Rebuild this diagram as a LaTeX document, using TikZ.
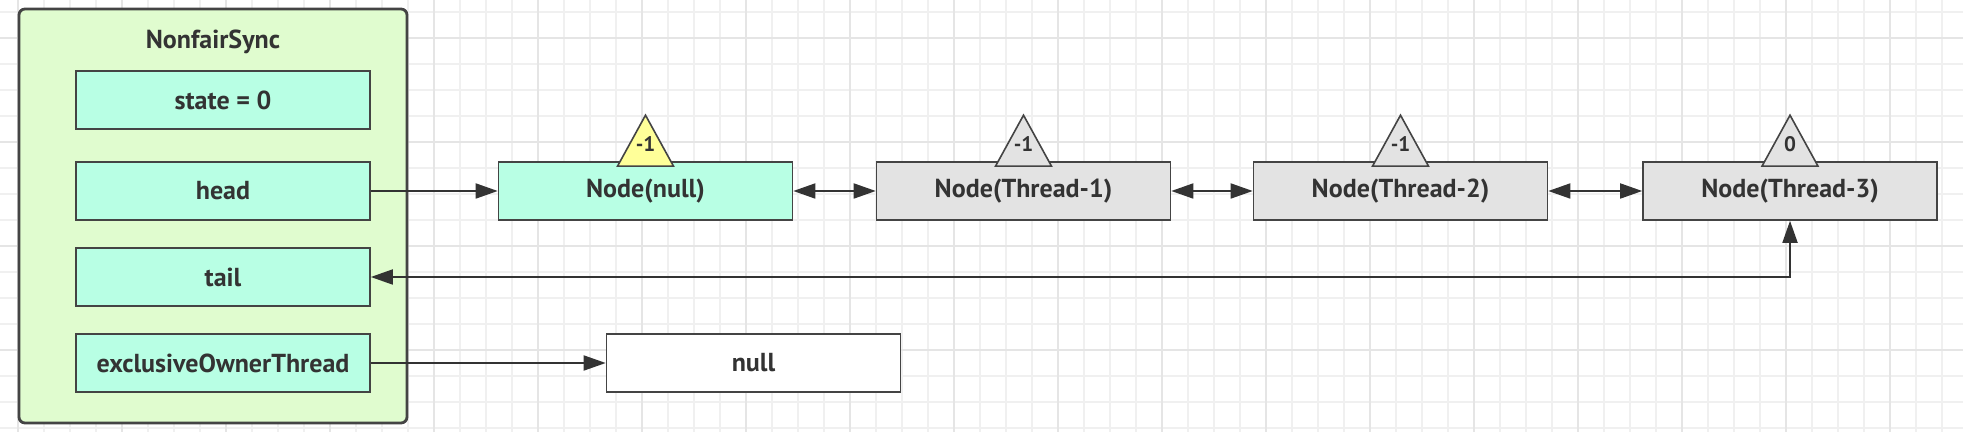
\documentclass[tikz,border=0pt]{standalone}
\usepackage{fontspec}
\setmainfont{PT Sans}
\usetikzlibrary{arrows.meta}
\definecolor{syncfill}{HTML}{E0FCCF}
\definecolor{fieldfill}{HTML}{B8FFE4}
\definecolor{qfill}{HTML}{E3E3E3}
\definecolor{wfill}{HTML}{FFFF99}
\definecolor{edge}{HTML}{444444}
\definecolor{ink}{HTML}{333333}
\tikzset{
  gridthin/.style={draw=black!6, line width=0.9pt},
  gridthick/.style={draw=black!10, line width=0.9pt},
  syncbox/.style={draw=edge, fill=syncfill, line width=1.4pt, rounded corners=3pt, minimum width=194pt, minimum height=207pt, inner sep=0pt},
  field/.style={draw=edge, fill=fieldfill, line width=0.8pt, minimum width=147pt, minimum height=29pt, inner sep=0pt, text=ink, font=\bfseries\fontsize{13}{15}\selectfont},
  qnode/.style={field, fill=qfill},
  waitst/.style={draw=edge, line width=0.8pt},
  wlabel/.style={inner sep=0pt, text=ink, font=\bfseries\fontsize{10.5}{12}\selectfont},
  link/.style={draw=ink, line width=0.9pt, -{Triangle[length=11pt,width=7.5pt]}},
  dlink/.style={draw=ink, line width=0.9pt, {Triangle[length=11pt,width=7.5pt]}-{Triangle[length=11pt,width=7.5pt]}}
}
\begin{document}
\begin{tikzpicture}[x=0.5pt, y=-0.5pt]
\useasboundingbox (0,0) rectangle (1963,432);
\fill[white] (0,0) rectangle (1963,432);
\foreach \i in {0,...,74} \draw[gridthin] (17.7+26*\i,0) -- ++(0,432);
\foreach \j in {0,...,16} \draw[gridthin] (0,12+26*\j) -- ++(1963,0);
\foreach \i in {0,...,18} \draw[gridthick] (17.7+104*\i,0) -- ++(0,432);
\foreach \j in {0,...,3} \draw[gridthick] (0,38+104*\j) -- ++(1963,0);

\node[syncbox] (sync) at (213,216) {};
\node[text=ink, font=\bfseries\fontsize{13}{15}\selectfont] (title) at (213,42) {NonfairSync};
\node[field] (state) at (223,100) {state = 0};
\node[field] (head) at (223,191) {head};
\node[field] (tail) at (223,277) {tail};
\node[field] (owner) at (223,363) {exclusiveOwnerThread};

\node[field] (nnull) at (645.5,191) {Node(null)};
\node[qnode] (t1) at (1023.5,191) {Node(Thread-1)};
\node[qnode] (t2) at (1400.5,191) {Node(Thread-2)};
\node[qnode] (t3) at (1790,191) {Node(Thread-3)};
\node[field, fill=white] (vnull) at (753.5,363) {null};

\foreach \n/\v/\c in {nnull/-1/wfill, t1/-1/qfill, t2/-1/qfill, t3/0/qfill}{
  \draw[waitst, fill=\c] (\n.north) ++(-28,5) -- ++(28,-51) -- ++(28,51) -- cycle;
  \node[wlabel] (w\n) at ([yshift=8.5pt]\n.north) {\v};
}

\draw[link] (head.east) -- (nnull.west);
\draw[dlink] (nnull.east) -- (t1.west);
\draw[dlink] (t1.east) -- (t2.west);
\draw[dlink] (t2.east) -- (t3.west);
\draw[dlink] (t3.south) |- (tail.east);
\draw[link] (owner.east) -- (vnull.west);
\end{tikzpicture}
\end{document}
